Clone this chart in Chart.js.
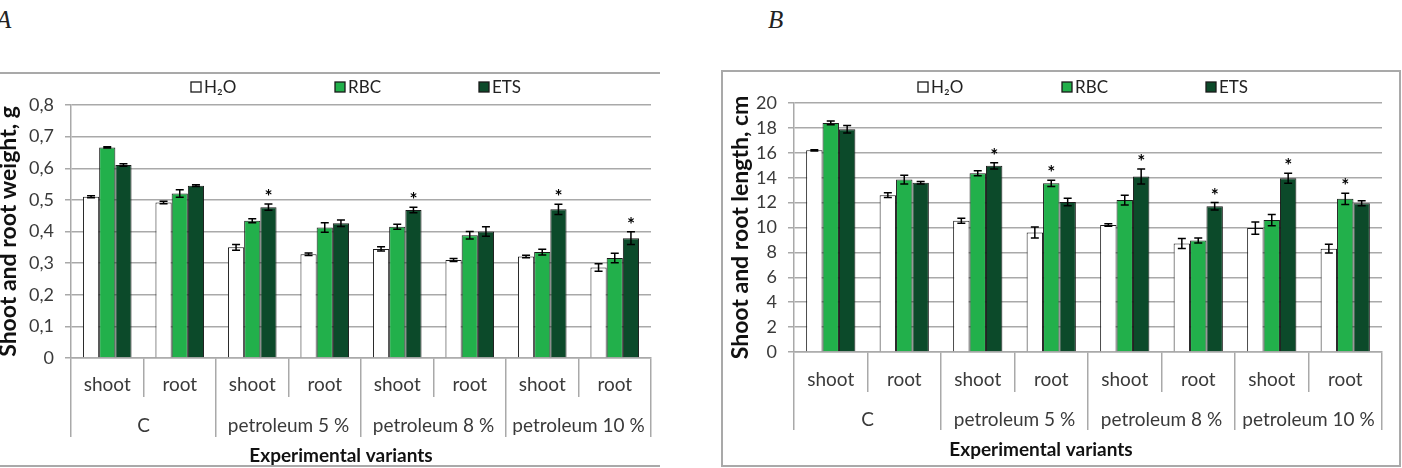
<!DOCTYPE html>
<html>
<head>
<meta charset="utf-8">
<script src="https://cdn.jsdelivr.net/npm/chart.js@4.4.1/dist/chart.umd.min.js"></script>
<style>
	body { margin: 0; width: 1402px; height: 468px; overflow: hidden; background: #fff; position: relative; font-family: Lato, sans-serif; }
	.panel-label { position: absolute; top: 6px; font: italic 25px 'Liberation Serif', serif; color: #222; }
	.frame-a { position: absolute; left: -2px; top: 72px; width: 662px; height: 391px; border-top: 2px solid #a9a9a9; border-bottom: 2px solid #a9a9a9; }
	.frame-b { position: absolute; left: 721px; top: 70px; width: 676px; height: 393px; border: 2px solid #a9a9a9; }
	canvas { position: absolute; top: 70px; }
</style>
</head>
<body>
<div class="panel-label" style="left:-4px">A</div>
<div class="panel-label" style="left:768px">B</div>
<div class="frame-a"></div>
<div class="frame-b"></div>
<canvas id="weight-chart" width="660" height="398" style="left:0"></canvas>
<canvas id="length-chart" width="670" height="398" style="left:723px"></canvas>
<script>
const variants = ['shoot', 'root', 'shoot', 'root', 'shoot', 'root', 'shoot', 'root'];
const groups = ['C', 'petroleum 5 %', 'petroleum 8 %', 'petroleum 10 %'];
const seriesNames = ['H₂O', 'RBC', 'ETS'];
const xTitle = 'Experimental variants';

// A: weight, g
const weightH2O = [0.51, 0.492, 0.35, 0.328, 0.345, 0.31, 0.321, 0.286];
const weightRBC = [0.666, 0.52, 0.434, 0.413, 0.415, 0.388, 0.335, 0.316];
const weightETS = [0.61, 0.545, 0.477, 0.426, 0.468, 0.4, 0.47, 0.379];
const weightErrH2O = [0.003, 0.004, 0.009, 0.004, 0.007, 0.005, 0.004, 0.012];
const weightErrRBC = [0.002, 0.012, 0.006, 0.015, 0.008, 0.012, 0.009, 0.015];
const weightErrETS = [0.004, 0.003, 0.01, 0.01, 0.009, 0.015, 0.016, 0.02];
const weightStarsH2O = [];
const weightStarsRBC = [];
const weightStarsETS = [2, 4, 6, 7];

// B: length, cm
const lengthH2O = [16.2, 12.6, 10.55, 9.6, 10.2, 8.72, 9.95, 8.3];
const lengthRBC = [18.4, 13.85, 14.35, 13.55, 12.2, 8.95, 10.6, 12.3];
const lengthETS = [17.9, 13.6, 14.95, 12.05, 14.1, 11.7, 13.95, 11.95];
const lengthErrH2O = [0.05, 0.2, 0.2, 0.45, 0.1, 0.4, 0.5, 0.35];
const lengthErrRBC = [0.15, 0.35, 0.2, 0.25, 0.4, 0.2, 0.45, 0.45];
const lengthErrETS = [0.3, 0.1, 0.25, 0.3, 0.6, 0.3, 0.4, 0.2];
const lengthStarsH2O = [];
const lengthStarsRBC = [3, 7];
const lengthStarsETS = [2, 4, 5, 6];

const colors = ['#ffffff', '#22b04b', '#0c4a2a'];
const gridColor = '#a9a9a9';
const textColor = '#3a3a3a';
const font = 'Lato, sans-serif';

const errorBars = {
	id: 'errorBars',
	afterDatasetsDraw(chart) {
		const {ctx, scales: {y}} = chart;
		ctx.save();
		ctx.strokeStyle = '#000';
		ctx.fillStyle = '#000';
		ctx.lineWidth = 1.5;
		ctx.font = `bold 19px ${font}`;
		ctx.textAlign = 'center';
		ctx.textBaseline = 'alphabetic';
		chart.data.datasets.forEach((ds, i) => {
			chart.getDatasetMeta(i).data.forEach((bar, j) => {
				const top = y.getPixelForValue(ds.data[j] + ds.errors[j]);
				const bottom = y.getPixelForValue(ds.data[j] - ds.errors[j]);
				ctx.beginPath();
				ctx.moveTo(bar.x, top);
				ctx.lineTo(bar.x, bottom);
				ctx.moveTo(bar.x - 4, top);
				ctx.lineTo(bar.x + 4, top);
				ctx.moveTo(bar.x - 4, bottom);
				ctx.lineTo(bar.x + 4, bottom);
				ctx.stroke();
				if (ds.stars.includes(j)) {
					ctx.fillText('*', bar.x, top - 1);
				}
			});
		});
		ctx.restore();
	}
};

// legend spread wide like the Excel original, plus the x title centred on the whole chart
const chartText = {
	id: 'chartText',
	afterDraw(chart, args, opts) {
		const {ctx, chartArea} = chart;
		const mid = (chartArea.left + chartArea.right) / 2;
		const y = 17;
		ctx.save();
		ctx.font = `17px ${font}`;
		ctx.textBaseline = 'middle';
		chart.data.datasets.forEach((ds, i) => {
			const x = mid - 26 + (i - 1) * 144;
			ctx.fillStyle = ds.backgroundColor;
			ctx.fillRect(x, y - 5, 10, 10);
			ctx.strokeStyle = '#1a1a1a';
			ctx.lineWidth = 1.3;
			ctx.strokeRect(x, y - 5, 10, 10);
			ctx.fillStyle = '#222';
			ctx.fillText(ds.label, x + 13, y + 1);
		});
		ctx.font = `bold 19px ${font}`;
		ctx.textAlign = 'center';
		ctx.fillStyle = '#111';
		ctx.fillText(xTitle, opts.titleX, opts.titleY);
		ctx.restore();
	}
};

const newChart = ({chartId, series, errors, stars, yTitle, yMax, yStep, yFormat, padTop, padRight, titlePad, rows, titleX, titleY}) => {
	const ctx = document.getElementById(chartId).getContext('2d');

	return new Chart(ctx, {
		type: 'bar',
		data: {
			labels: variants,
			datasets: series.map((data, i) => ({
				label: seriesNames[i],
				data,
				errors: errors[i],
				stars: stars[i],
				backgroundColor: colors[i],
				borderColor: '#1a1a1a',
				borderWidth: 1,
				borderSkipped: 'bottom',
				categoryPercentage: 0.67,
				barPercentage: 1
			}))
		},
		options: {
			responsive: false,
			animation: false,
			layout: {padding: {top: padTop, right: padRight, left: 0, bottom: 0}},
			plugins: {
				legend: {display: false},
				tooltip: {enabled: false},
				chartText: {titleX, titleY}
			},
			scales: {
				y: {
					min: 0,
					max: yMax,
					afterFit: (scale) => { scale.width = 71; },
					ticks: {stepSize: yStep, padding: 11, color: textColor, font: {family: font, size: 18}, callback: yFormat},
					grid: {color: gridColor, lineWidth: 1.5, tickLength: 6},
					border: {display: true, color: gridColor, width: 1.5},
					title: {display: true, text: yTitle, color: '#111', font: {family: font, size: 23, weight: 'bold', lineHeight: 1}, padding: {top: titlePad, bottom: 0}}
				},
				x: {
					weight: 0,
					afterFit: (scale) => { scale.height = rows[0]; },
					ticks: {autoSkip: false, maxRotation: 0, padding: rows[2], color: textColor, font: {family: font, size: 19, lineHeight: 1.2}},
					grid: {drawOnChartArea: false, offset: true, color: gridColor, lineWidth: 1.5, tickLength: rows[0]},
					border: {display: true, color: gridColor, width: 1.5}
				},
				groups: {
					type: 'category',
					labels: groups,
					position: 'bottom',
					offset: true,
					weight: 1,
					afterFit: (scale) => { scale.height = rows[1]; },
					ticks: {autoSkip: false, maxRotation: 0, padding: rows[3], color: textColor, font: {family: font, size: 19, lineHeight: 1.2}},
					grid: {drawOnChartArea: false, offset: true, color: gridColor, lineWidth: 1.5, tickLength: rows[4]},
					border: {display: false}
				}
			}
		},
		plugins: [errorBars, chartText]
	});
};

newChart({
	chartId: 'weight-chart',
	series: [weightH2O, weightRBC, weightETS],
	errors: [weightErrH2O, weightErrRBC, weightErrETS],
	stars: [weightStarsH2O, weightStarsRBC, weightStarsETS],
	yTitle: 'Shoot and root weight, g',
	yMax: 0.8,
	yStep: 0.1,
	yFormat: (v) => (v === 0 ? '0' : v.toFixed(1).replace('.', ',')),
	padTop: 35,
	padRight: 9,
	titlePad: -3,
	rows: [39, 71, -24, -23, 40],
	titleX: 341,
	titleY: 386
});

newChart({
	chartId: 'length-chart',
	series: [lengthH2O, lengthRBC, lengthETS],
	errors: [lengthErrH2O, lengthErrRBC, lengthErrETS],
	stars: [lengthStarsH2O, lengthStarsRBC, lengthStarsETS],
	yTitle: 'Shoot and root length, cm',
	yMax: 20,
	yStep: 2,
	yFormat: (v) => String(v),
	padTop: 33,
	padRight: 11,
	titlePad: 6,
	rows: [40, 76, -24, -22, 38],
	titleX: 318,
	titleY: 380
});
</script>
</body>
</html>
